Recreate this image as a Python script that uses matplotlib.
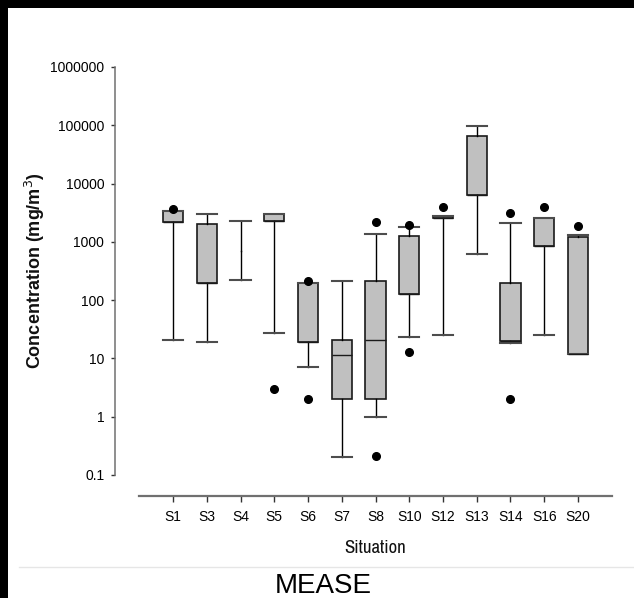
import numpy as np
from matplotlib import pyplot as plt
from matplotlib import font_manager as fm
from matplotlib.patches import Rectangle

# values (mg/m3, log scale)
situations = ['S1', 'S3', 'S4', 'S5', 'S6', 'S7', 'S8', 'S10', 'S12', 'S13', 'S14', 'S16', 'S20']
q1 = [2200, 195, 700, 2300, 19, 2.0, 2.05, 126, 2580, 6300, 19.7, 840, 12.0]
med = [2200, 195, 700, 2300, 19, 11.4, 21, 126, 2580, 6300, 19.7, 840, 12.0]
q3 = [3400, 1990, 700, 2950, 195, 20.4, 211, 1260, 2750, 65000, 195, 2540, 1210]
whislo = [21, 19, 218, 27, 7.2, 0.2, 0.97, 23.4, 25, 620, 18.3, 25, 12.0]
whishi = [3400, 2950, 2240, 2950, 195, 211, 1350, 1820, 2750, 97000, 2090, 2540, 1310]
fliers = [[3600], [], [], [3.0], [210, 2.0], [], [2200, 0.21], [1970, 13.1],
          [4000], [], [3100, 2.0], [3900], [1900]]
no_box = ['S4']  # only whiskers drawn for this one

yticks = [0.1, 1, 10, 100, 1000, 10000, 100000, 1000000]
ytick_labels = ['0.1', '1', '10', '100', '1000', '10000', '100000', '1000000']

plt.rcParams['font.family'] = 'Liberation Sans'

# pick a narrow sans if one is installed (the original x-axis text is Arial Narrow)
installed = set(f.name for f in fm.fontManager.ttflist)
narrow = 'Liberation Sans'
for cand in ['Liberation Sans Narrow', 'Arial Narrow', 'Archivo Narrow', 'PT Sans Narrow',
             'Roboto Condensed', 'Open Sans Condensed', 'Arimo']:
    if cand in installed:
        narrow = cand
        break

W, H = 634, 598
fig = plt.figure(figsize=(W / 100, H / 100), dpi=100)
ax = fig.add_axes([139.3 / W, 1 - 475 / H, (611.7 - 139.3) / W, (475 - 67) / H])

stats_box, pos_box, stats_line, pos_line = [], [], [], []
for i, s in enumerate(situations):
    d = dict(q1=q1[i], med=med[i], q3=q3[i], whislo=whislo[i], whishi=whishi[i],
             fliers=fliers[i], label=s)
    if s in no_box:
        stats_line.append(d)
        pos_line.append(i + 1)
    else:
        stats_box.append(d)
        pos_box.append(i + 1)

common = dict(widths=0.6, capwidths=0.6, manage_ticks=False,
              whiskerprops=dict(color='black', linewidth=1.0),
              capprops=dict(color='#4d4d4d', linewidth=1.5),
              flierprops=dict(marker='o', markerfacecolor='black', markeredgecolor='black',
                              markersize=5.5, linestyle='none'))

ax.bxp(stats_box, positions=pos_box, patch_artist=True,
       boxprops=dict(facecolor='#c0c0c0', edgecolor='#1a1a1a', linewidth=1.2),
       medianprops=dict(color='#1a1a1a', linewidth=1.0), **common)
ax.bxp(stats_line, positions=pos_line, showbox=False,
       medianprops=dict(linewidth=0), **common)

ax.set_yscale('log')
ax.set_ylim(0.1, 1000000)
ax.set_xlim(0, 14)
ax.set_yticks(yticks, ytick_labels)
ax.minorticks_off()
ax.set_xticks(np.arange(1, len(situations) + 1), situations)
for lab in ax.get_yticklabels():
    lab.set_fontsize(9.3)
    lab.set_color('#222222')
for lab in ax.get_xticklabels():
    lab.set_fontfamily(narrow)
    lab.set_fontsize(12)
    lab.set_color('#222222')

for side in ['top', 'right']:
    ax.spines[side].set_visible(False)
ax.spines['left'].set_position(('outward', 17.3))
ax.spines['bottom'].set_position(('outward', 15.1))
ax.spines['left'].set_color('#707070')
ax.spines['left'].set_linewidth(1.1)
ax.spines['bottom'].set_color('#707070')
ax.spines['bottom'].set_linewidth(1.6)
ax.tick_params(axis='y', length=3, width=1, color='#333333', pad=5)
ax.tick_params(axis='x', length=4.3, width=1, color='#333333', pad=5.5)

ax.set_xlabel('Situation', fontfamily=narrow, fontsize=13.5, color='#111111', labelpad=12)
fig.text(35 / W, 1 - 271 / H, 'Concentration (mg/m$^{3}$)', rotation=90, ha='center',
         va='center', fontsize=13, fontweight='bold', color='#111111')

# frame bits from the original screenshot
fig.add_artist(Rectangle((0, 1 - 7.5 / H), 1, 7.5 / H, transform=fig.transFigure,
                         facecolor='black', edgecolor='none'))
fig.add_artist(Rectangle((0, 0), 8 / W, 1, transform=fig.transFigure,
                         facecolor='black', edgecolor='none'))
fig.add_artist(plt.Line2D([19 / W, 1], [1 - 567 / H, 1 - 567 / H], transform=fig.transFigure,
                          color='#e6e6e6', linewidth=1))
fig.text(323.5 / W, 1 - 593 / H, 'MEASE', ha='center', va='baseline',
         fontsize=20, color='black')

fig.savefig('out.png', dpi=100)
